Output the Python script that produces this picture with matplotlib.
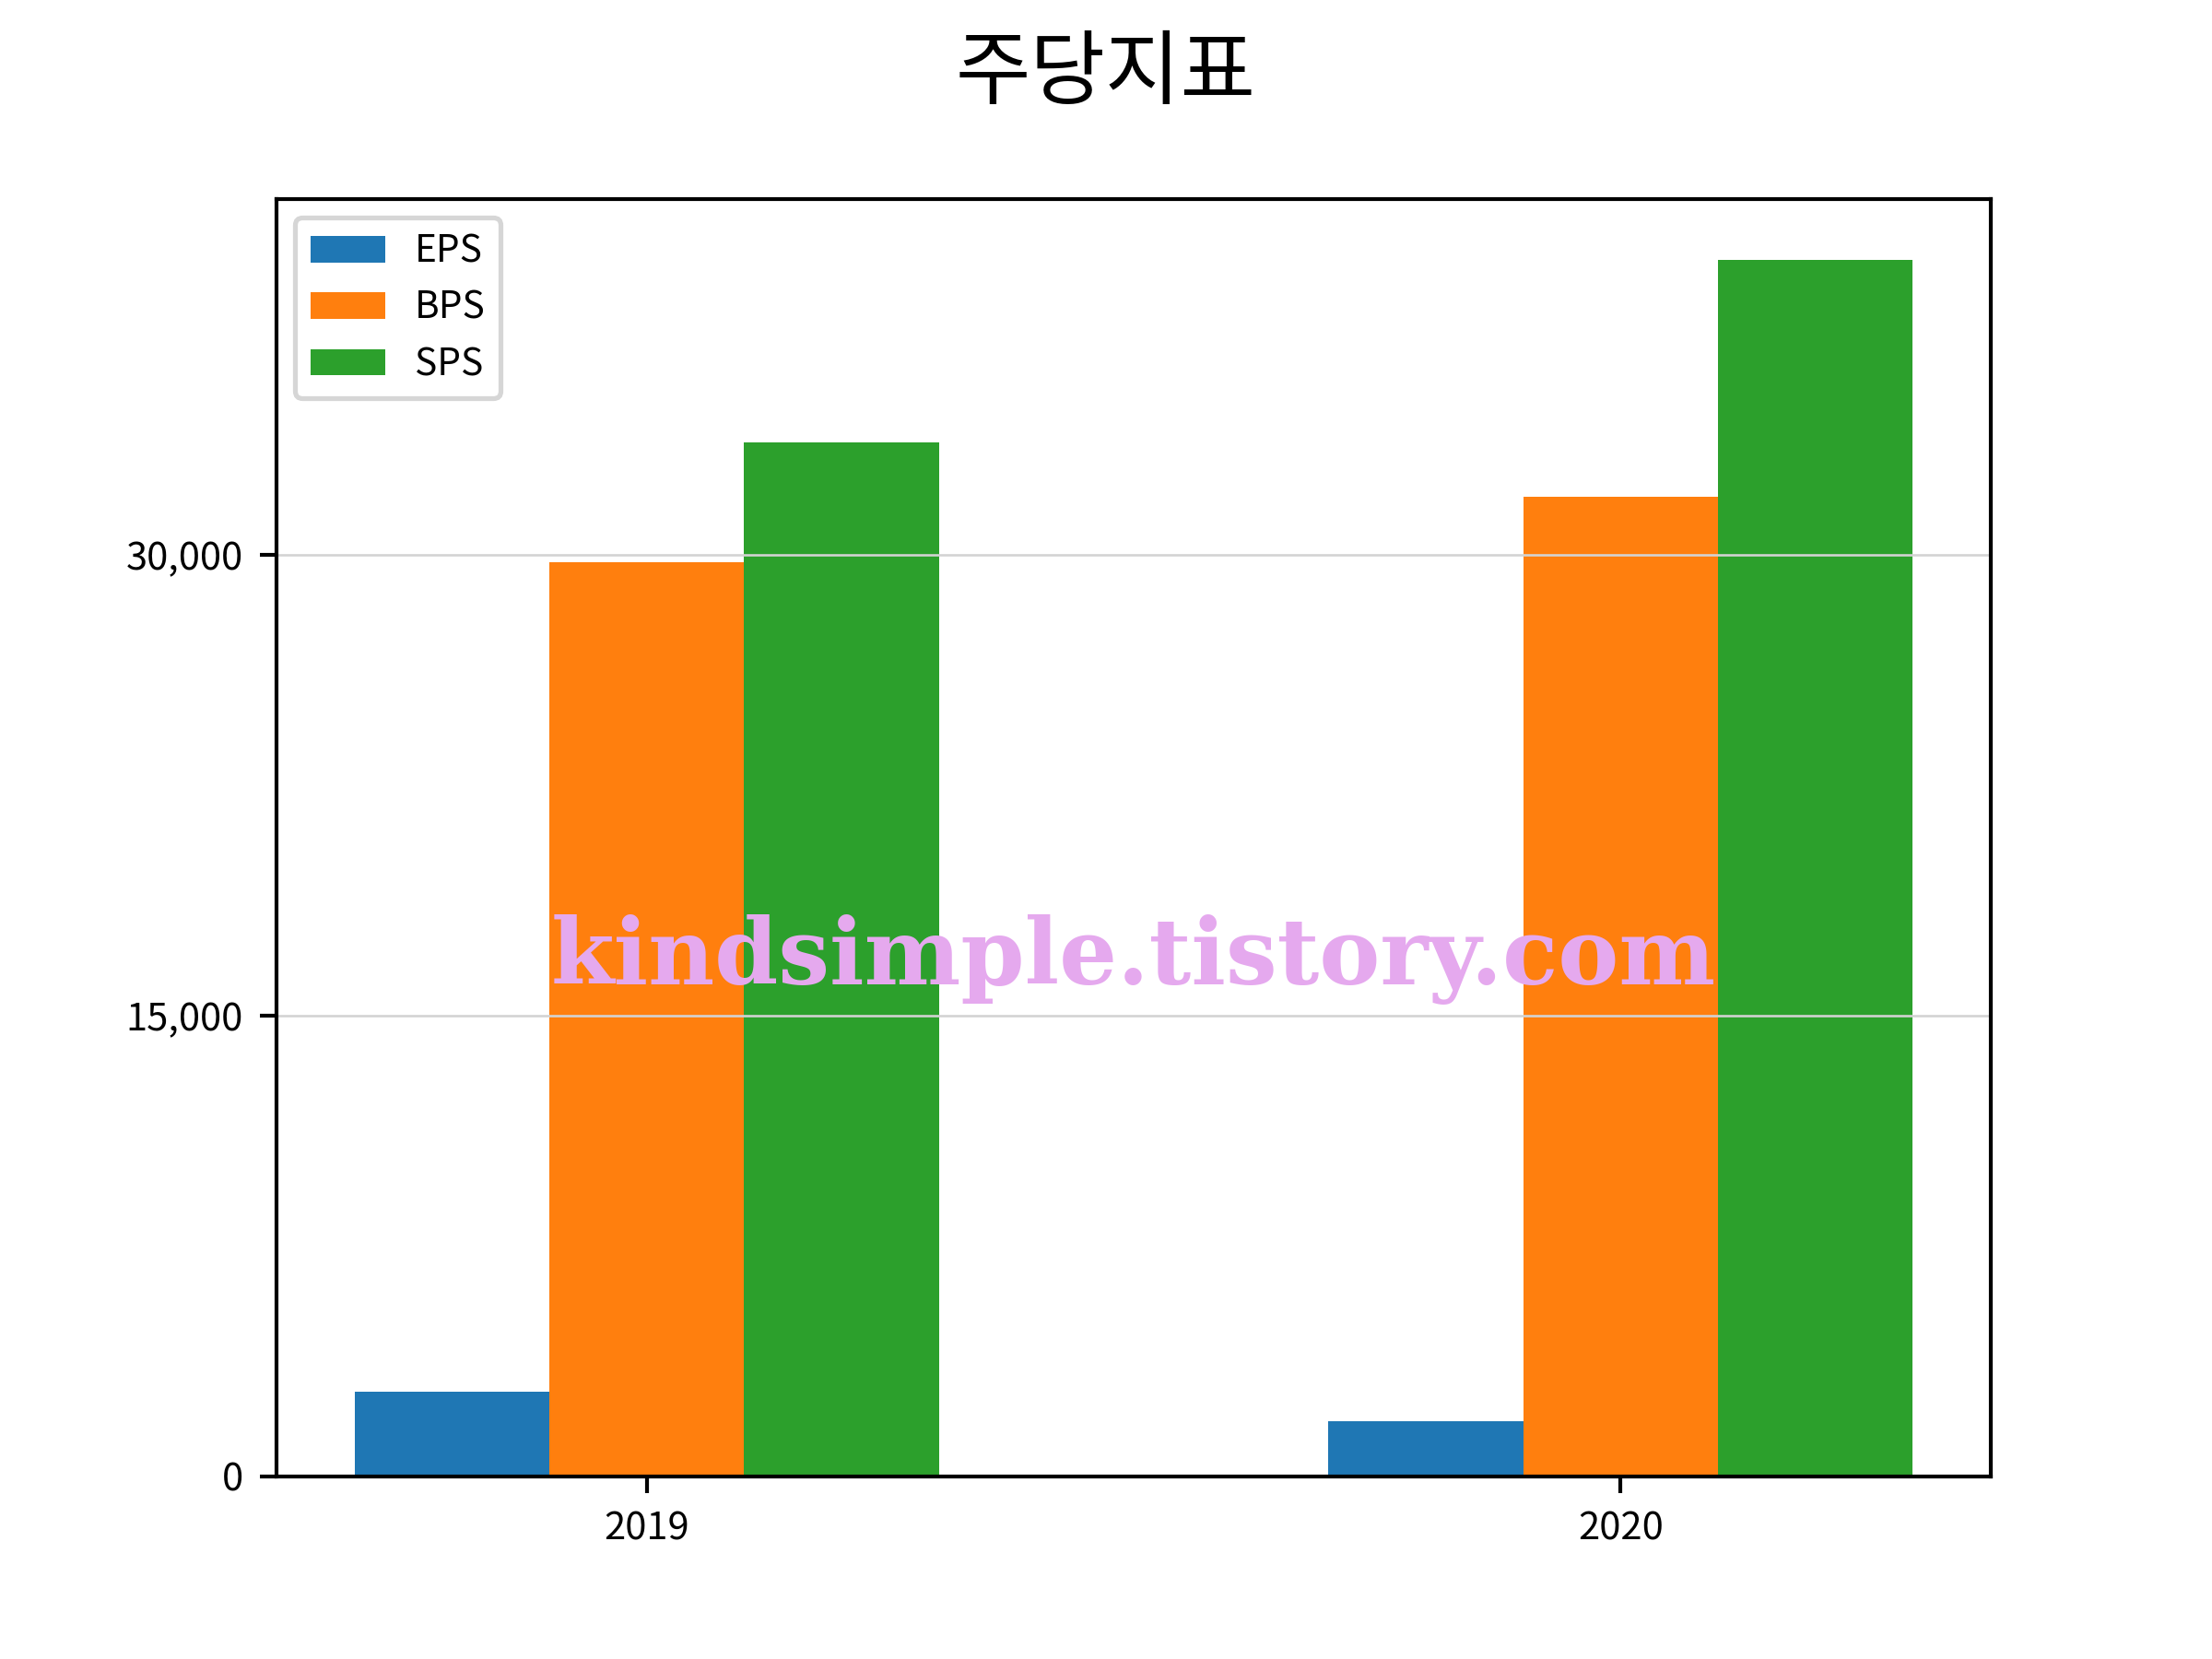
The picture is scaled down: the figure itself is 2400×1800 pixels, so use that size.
import numpy as np
import matplotlib.pyplot as plt
from matplotlib.ticker import FuncFormatter

plt.rcParams['font.family'] = ['Noto Sans CJK KR', 'DejaVu Sans']

years = ['2019', '2020']
eps = [2750, 1800]
bps = [29750, 31900]
sps = [33650, 39600]

x = np.arange(len(years))
w = 0.2

fig, ax = plt.subplots(figsize=(6.4, 4.8), dpi=375)
fig.suptitle('주당지표', fontsize=17)

ax.bar(x - w, eps, w, label='EPS')
ax.bar(x, bps, w, label='BPS')
ax.bar(x + w, sps, w, label='SPS')

ax.set_xticks(x)
ax.set_xticklabels(years)
ax.set_yticks([0, 15000, 30000])
ax.yaxis.set_major_formatter(FuncFormatter(lambda v, p: f'{int(v):,}'))
ax.tick_params(labelsize=8)
ax.grid(axis='y', color='lightgray', linewidth=0.5)
ax.legend(loc='upper left', fontsize=7.8)

ax.text(0.5, 0.405, 'kindsimple.tistory.com', transform=ax.transAxes,
        ha='center', va='center', fontsize=19, fontweight='bold',
        family='DejaVu Serif', color='#e5a9ee')

fig.savefig('out.png')
